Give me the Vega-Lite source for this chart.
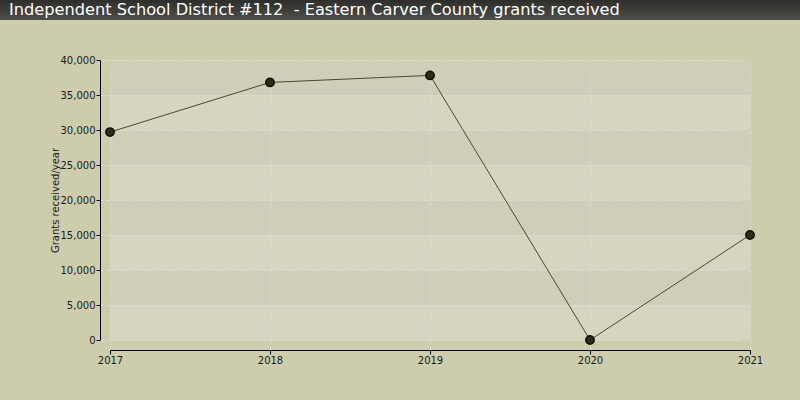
{
  "$schema": "https://vega.github.io/schema/vega-lite/v6.json",
  "background": "#cdcdae",
  "padding": {"left": 0, "top": 0, "right": 0, "bottom": 38},
  "autosize": {"type": "pad"},
  "config": {
    "font": "DejaVu Sans",
    "axis": {
      "labelFont": "DejaVu Sans",
      "labelFontSize": 10,
      "labelColor": "#1a1a1a",
      "labelFlush": false,
      "titleFont": "DejaVu Sans",
      "titleFontSize": 10,
      "titleFontWeight": "normal",
      "titleColor": "#1a1a1a",
      "domainColor": "#000000",
      "tickColor": "#000000",
      "tickSize": 4,
      "labelPadding": 1,
      "offset": 10,
      "gridColor": "#dcdccc",
      "gridDash": [4, 2],
      "gridWidth": 1
    }
  },
  "datasets": {
    "grants": [
      {"year": 2017, "grants": 29700},
      {"year": 2018, "grants": 36800},
      {"year": 2019, "grants": 37800},
      {"year": 2020, "grants": 0},
      {"year": 2021, "grants": 15000}
    ]
  },
  "spacing": 35,
  "vconcat": [
    {
      "width": 800,
      "height": 20,
      "view": {
        "stroke": null,
        "fill": {
          "gradient": "linear",
          "x1": 0, "y1": 0, "x2": 0, "y2": 1,
          "stops": [
            {"offset": 0, "color": "#2e2e2c"},
            {"offset": 1, "color": "#4e4e4a"}
          ]
        }
      },
      "data": {"values": [{"label": "Independent School District #112\u00a0\u00a0- Eastern Carver County grants received"}]},
      "mark": {
        "type": "text",
        "align": "left",
        "baseline": "middle",
        "dx": 9,
        "color": "#ffffff",
        "font": "DejaVu Sans",
        "fontSize": 16.2
      },
      "encoding": {
        "x": {"datum": 0, "type": "quantitative", "scale": {"domain": [0, 1], "nice": false}, "axis": null},
        "text": {"field": "label"}
      }
    },
    {
      "spacing": 49,
      "hconcat": [
        {
          "width": 1,
          "height": 1,
          "view": {"stroke": null},
          "data": {"values": []},
          "mark": "point"
        },
        {
          "width": 640,
          "height": 280,
          "data": {"name": "grants"},
          "view": {
            "stroke": null,
            "fill": {
              "gradient": "linear",
              "x1": 0, "y1": 0, "x2": 0, "y2": 1,
              "stops": [
                {"offset": 0, "color": "#cfcfb9"},
                {"offset": 0.125, "color": "#cfcfb9"},
                {"offset": 0.125, "color": "#d5d5c0"},
                {"offset": 0.25, "color": "#d5d5c0"},
                {"offset": 0.25, "color": "#cfcfb9"},
                {"offset": 0.375, "color": "#cfcfb9"},
                {"offset": 0.375, "color": "#d5d5c0"},
                {"offset": 0.5, "color": "#d5d5c0"},
                {"offset": 0.5, "color": "#cfcfb9"},
                {"offset": 0.625, "color": "#cfcfb9"},
                {"offset": 0.625, "color": "#d5d5c0"},
                {"offset": 0.75, "color": "#d5d5c0"},
                {"offset": 0.75, "color": "#cfcfb9"},
                {"offset": 0.875, "color": "#cfcfb9"},
                {"offset": 0.875, "color": "#d5d5c0"},
                {"offset": 1, "color": "#d5d5c0"}
              ]
            }
          },
          "encoding": {
            "x": {
              "field": "year",
              "type": "quantitative",
              "scale": {"domain": [2017, 2021], "nice": false, "zero": false},
              "axis": {
                "title": null,
                "values": [2017, 2018, 2019, 2020, 2021],
                "format": "d"
              }
            },
            "y": {
              "field": "grants",
              "type": "quantitative",
              "scale": {"domain": [0, 40000], "nice": false},
              "axis": {
                "title": "Grants received/year",
                "values": [0, 5000, 10000, 15000, 20000, 25000, 30000, 35000, 40000],
                "format": ",d",
                "titlePadding": 0
              }
            }
          },
          "layer": [
            {"mark": {"type": "line", "color": "#4a4930", "strokeWidth": 1}},
            {
              "mark": {
                "type": "point",
                "filled": true,
                "size": 70,
                "fill": "#2f2c16",
                "stroke": "#0e0e0a",
                "strokeWidth": 1.5,
                "opacity": 1
              }
            }
          ]
        }
      ]
    }
  ]
}
